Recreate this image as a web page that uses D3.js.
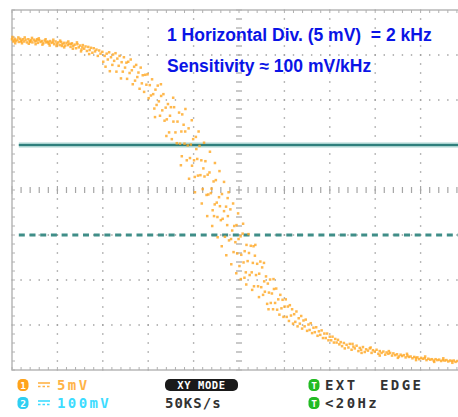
<!DOCTYPE html>
<html>
<head>
<meta charset="utf-8">
<script src="https://cdn.jsdelivr.net/npm/d3@7"></script>
<style>
  body { margin: 0; background: #fff; }
  svg { display: block; }
</style>
</head>
<body>
<div id="app"></div>
<script>
// XY trace, in screen divisions (ch1 = x, 5 mV/div ; ch2 = y, 100 mV/div)
const plateau = [
  [-5.00,3.35],[-4.97,3.30],[-4.94,3.36],[-4.91,3.31],[-4.88,3.34],[-4.85,3.29],[-4.82,3.36],[-4.79,3.32],
  [-4.76,3.35],[-4.73,3.30],[-4.70,3.34],[-4.67,3.28],[-4.64,3.35],[-4.61,3.31],[-4.58,3.33],[-4.55,3.28],
  [-4.52,3.34],[-4.49,3.30],[-4.46,3.32],[-4.43,3.27],[-4.40,3.33],[-4.37,3.29],[-4.34,3.31],[-4.31,3.26],
  [-4.28,3.32],[-4.25,3.28],[-4.22,3.30],[-4.19,3.25],[-4.16,3.31],[-4.13,3.27],[-4.10,3.29],[-4.07,3.24],
  [-4.04,3.30],[-4.01,3.25],[-3.98,3.28],[-3.95,3.22],[-3.92,3.29],[-3.89,3.24],[-3.86,3.27],[-3.83,3.21],
  [-3.80,3.27],[-3.77,3.22],[-3.74,3.25],[-3.71,3.18],[-3.68,3.26],[-3.65,3.20],[-3.62,3.23],[-3.59,3.15],
  [-3.56,3.24],[-3.53,3.17],[-3.50,3.21],[-3.47,3.12],[-3.44,3.22],[-3.41,3.14],[-3.38,3.19],[-3.35,3.09],
  [-3.32,3.18],[-3.29,3.11],[-3.26,3.16],[-3.23,3.05],[-3.20,3.15],[-3.17,3.08],[-3.14,3.12],[-3.11,2.98],
  [-3.08,3.10],[-3.05,3.03],[-4.95,3.32],[-4.80,3.30],[-4.60,3.29],[-4.45,3.35],[-4.20,3.28],[-3.90,3.20],
  [-3.70,3.24],[-3.45,3.17],[-3.30,3.02],
  [-4.99,3.40],[-4.93,3.26],[-4.86,3.39],[-4.78,3.26],[-4.72,3.39],[-4.63,3.25],[-4.56,3.38],[-4.48,3.24],
  [-4.41,3.37],[-4.33,3.23],[-4.26,3.35],[-4.17,3.21],[-4.09,3.34],[-4.02,3.20],[-3.94,3.32],[-3.85,3.17],
  [-3.76,3.30],[-3.66,3.14],[-3.57,3.28],[-3.48,3.08]
];

const knee = [
  [-3.01,3.07],[-2.99,2.85],[-2.96,2.98],[-2.94,2.74],[-2.915,3.03],[-2.89,2.90],[-2.86,3.06],[-2.845,2.64],
  [-2.82,2.95],[-2.79,2.78],[-2.775,3.01],[-2.75,2.87],[-2.72,3.04],[-2.70,2.63],[-2.68,2.92],[-2.65,2.76],
  [-2.63,2.98],[-2.60,2.48],[-2.585,2.84],[-2.56,2.63],[-2.535,2.95],[-2.51,2.72],[-2.48,2.83],[-2.465,2.47],
  [-2.44,2.85],[-2.41,2.60],[-2.385,2.90],[-2.36,2.66],[-2.34,2.35],[-2.31,2.74],[-2.29,2.43],[-2.265,2.78],
  [-2.24,2.51],[-2.215,2.61],[-2.19,2.25],[-2.165,2.72],[-2.14,2.37],[-2.12,2.55],[-2.09,2.18],[-2.065,2.56],
  [-2.04,2.34],[-2.015,2.57],[-1.99,2.04],[-1.965,2.33],[-1.94,2.10],[-1.915,2.46],[-1.89,2.13],[-1.865,1.81],
  [-1.84,2.23],[-1.815,1.89],[-1.79,2.32],[-1.765,1.97],[-1.74,1.65],[-1.715,2.09],[-1.69,1.77],[-1.665,2.13],
  [-1.64,1.54],[-1.615,1.83],[-1.59,1.57],[-1.565,1.91],[-1.54,1.28],[-1.52,1.65]
];

const slope = [
  [-1.50,1.84],[-1.48,1.13],[-1.445,1.52],[-1.43,1.84],[-1.40,1.28],[-1.37,1.04],[-1.355,1.52],[-1.32,1.72],
  [-1.30,1.03],[-1.27,1.30],[-1.26,0.75],[-1.22,1.45],[-1.20,1.03],[-1.185,1.30],[-1.15,0.66],[-1.13,0.99],
  [-1.11,1.37],[-1.08,0.71],[-1.06,1.01],[-1.035,0.54],[-1.01,1.13],[-0.99,0.66],[-0.975,0.29],[-0.94,0.91],
  [-0.92,0.69],[-0.905,0.32],[-0.87,0.98],[-0.85,0.33],[-0.83,0.66],[-0.80,0.02],[-0.785,0.48],[-0.76,0.30],
  [-0.74,0.64],[-0.715,-0.11],[-0.69,0.34],[-0.675,-0.10],[-0.65,0.39],[-0.62,-0.07],[-0.605,0.03],[-0.58,-0.45],
  [-0.56,0.19],[-0.535,-0.32],[-0.51,0.22],[-0.49,-0.28],[-0.475,-0.60],[-0.44,-0.16],[-0.42,-0.36],[-0.40,-0.67],
  [-0.375,-0.09],[-0.36,-0.64],[-0.33,-0.47],[-0.31,-1.04],[-0.285,-0.37],[-0.26,-0.78],[-0.245,-0.58],[-0.22,-1.12],
  [-0.19,-0.43],[-0.175,-1.09],[-0.15,-0.90],[-0.12,-1.38],[-0.105,-0.80],[-0.08,-1.16],[-0.055,-0.78],[-0.04,-1.41],
  [-0.01,-1.09],[0.01,-1.69],[0.035,-1.03],[0.05,-1.44],[0.08,-0.97],[0.10,-1.61],[0.125,-1.36],[0.15,-1.83],
  [0.165,-1.22],[0.19,-1.58],[0.22,-1.40],[0.235,-1.89],[0.26,-1.24],[0.28,-1.83],[0.305,-1.62],[0.33,-2.14],
  [0.35,-1.46],[0.375,-1.89],[0.40,-1.64],[0.42,-2.14],[0.445,-1.86],[0.47,-1.59],[0.49,-2.16],
  [-0.95,1.18],[-0.55,-0.58],[-0.25,-0.18],[0.12,-1.95],[-1.25,1.68],[0.32,-1.25]
];

// wider outliers of the steep part
const spread = [
  [-1.28,0.55],[-1.18,1.80],[-1.10,0.25],[-1.04,1.55],[-0.97,-0.05],[-0.89,1.30],[-0.82,-0.30],[-0.77,1.05],
  [-0.70,-0.58],[-0.64,0.85],[-0.59,-0.80],[-0.53,0.60],[-0.47,-1.05],[-0.43,0.42],[-0.38,-1.25],[-0.33,0.18],
  [-0.28,-1.45],[-0.23,-0.05],[-0.17,-1.65],[-0.13,-0.30],[-0.06,-1.85],[-0.02,-0.52],[0.04,-1.98],[0.09,-0.75],
  [0.16,-2.10],[0.21,-0.98],[0.29,-2.22],[0.36,-1.22],[0.44,-2.38],[0.55,-1.62],[0.65,-2.65],[0.76,-1.98],
  [-1.45,2.05],[-1.60,1.20],[-1.72,2.35],[-1.85,1.62]
];

const bend = [
  [0.51,-1.72],[0.53,-2.33],[0.555,-2.03],[0.57,-2.26],[0.595,-1.92],[0.62,-2.53],[0.635,-2.08],[0.66,-2.28],
  [0.685,-1.99],[0.70,-2.51],[0.725,-2.30],[0.75,-2.65],[0.77,-2.20],[0.795,-2.51],[0.82,-2.19],[0.84,-2.66],
  [0.865,-2.43],[0.89,-2.77],[0.91,-2.33],[0.935,-2.63],[0.96,-2.44],[0.98,-2.82],[1.005,-2.59],[1.03,-2.43],
  [1.05,-2.82],[1.075,-2.59],[1.10,-2.91],[1.12,-2.56],[1.145,-2.79],[1.17,-2.65],[1.19,-2.97],[1.215,-2.76],
  [1.24,-2.93],[1.265,-2.70],[1.29,-3.03],[1.315,-2.85],[1.34,-2.97],[1.37,-2.80],[1.39,-3.08],[1.42,-2.90],
  [1.445,-3.03],[1.47,-2.88],[1.50,-3.13],[1.53,-2.99],[1.555,-3.11],[1.58,-2.96],[1.61,-3.18],[1.64,-3.06],
  [1.67,-3.16],[1.70,-3.05],[1.73,-3.24],[1.76,-3.14],[1.79,-3.22],[1.82,-3.12],[1.85,-3.29],[1.88,-3.19],
  [1.91,-3.29],[1.94,-3.19],[1.97,-3.34],[2.00,-3.26],[2.03,-3.34],[2.06,-3.26],[2.09,-3.39],[2.12,-3.31],
  [2.15,-3.39],[2.18,-3.33],[2.21,-3.43],[2.24,-3.38]
];

const tail = [
  [2.27,-3.47],[2.31,-3.40],[2.33,-3.52],[2.37,-3.44],[2.41,-3.50],[2.44,-3.42],[2.48,-3.55],[2.52,-3.48],
  [2.55,-3.52],[2.59,-3.46],[2.63,-3.58],[2.66,-3.51],[2.69,-3.55],[2.73,-3.49],[2.77,-3.60],[2.80,-3.54],
  [2.84,-3.57],[2.88,-3.52],[2.92,-3.62],[2.95,-3.56],[2.99,-3.59],[3.03,-3.55],[3.07,-3.64],[3.10,-3.58],
  [3.14,-3.62],[3.18,-3.59],[3.22,-3.66],[3.25,-3.61],[3.29,-3.64],[3.33,-3.62],[3.37,-3.68],[3.40,-3.63],
  [3.44,-3.67],[3.48,-3.65],[3.52,-3.70],[3.56,-3.66],[3.59,-3.69],[3.63,-3.67],[3.67,-3.72],[3.71,-3.68],
  [3.74,-3.71],[3.78,-3.70],[3.82,-3.74],[3.86,-3.71],[3.90,-3.73],[3.93,-3.72],[3.97,-3.76],[4.01,-3.73],
  [4.05,-3.75],[4.09,-3.74],[4.13,-3.78],[4.17,-3.75],[4.21,-3.77],[4.25,-3.76],[4.29,-3.79],[4.33,-3.76],
  [4.37,-3.78],[4.41,-3.77],[4.45,-3.80],[4.49,-3.78],[4.53,-3.79],[4.57,-3.78],[4.61,-3.81],[4.65,-3.79],
  [4.69,-3.80],[4.73,-3.79],[4.77,-3.82],[4.81,-3.80],[4.85,-3.81],
  [2.50,-3.42],[2.90,-3.50],[3.30,-3.58],[3.70,-3.64],[4.10,-3.70],[4.50,-3.74],[2.70,-3.62],[3.10,-3.68],
  [3.50,-3.73],[3.90,-3.78],[4.30,-3.82],[4.70,-3.84]
];

// cursors (divisions)
const cursorSolid = 1;
const cursorDashed = -1;

const xDivs = [-5,-4,-3,-2,-1,0,1,2,3,4,5];
const yDivs = [-4,-3,-2,-1,0,1,2,3,4];

const noteLines = ["1 Horizontal Div. (5 mV)  = 2 kHz", "Sensitivity \u2248 100 mV/kHz"];

const width = 458;
const height = 417;

const x = d3.scaleLinear().domain([-5, 5]).range([12, 466]);
const y = d3.scaleLinear().domain([-4, 4]).range([370, 10]);

const svg = d3.select('#app')
  .append('svg')
  .attr('width', width)
  .attr('height', height);

const grid = svg.append('g');
const minor = d3.range(-25, 26).map(d => d / 5);
const minorY = d3.range(-20, 21).map(d => d / 5);

// dotted graticule
xDivs.filter(d => d > -5 && d < 5 && d !== 0).forEach(v => {
  grid.selectAll(null).data(minorY).join('rect')
    .attr('x', x(v) - 0.7).attr('y', d => y(d) - 0.7)
    .attr('width', 1.4).attr('height', 1.4).attr('fill', '#9a9a9a');
});
yDivs.filter(d => d > -4 && d < 4 && d !== 0).forEach(v => {
  grid.selectAll(null).data(minor).join('rect')
    .attr('x', d => x(d) - 0.7).attr('y', y(v) - 0.7)
    .attr('width', 1.4).attr('height', 1.4).attr('fill', '#9a9a9a');
});

// centre axes with minor ticks
grid.selectAll(null).data(minor).join('line')
  .attr('x1', d => x(d)).attr('x2', d => x(d))
  .attr('y1', d => y(0) - (Number.isInteger(d) ? 4 : 3)).attr('y2', d => y(0) + (Number.isInteger(d) ? 4 : 3))
  .attr('stroke', '#a5a5a5').attr('stroke-width', 1.2);
grid.selectAll(null).data(minorY).join('line')
  .attr('y1', d => y(d)).attr('y2', d => y(d))
  .attr('x1', x(0) - 3).attr('x2', x(0) + 3)
  .attr('stroke', '#a5a5a5').attr('stroke-width', 1.2);

// border
grid.append('path')
  .attr('d', `M${x(5)},${y(4)}H${x(-5)}V${y(-4)}H${x(5)}`)
  .attr('fill', 'none').attr('stroke', '#b8b8b8').attr('stroke-width', 1.5);
grid.selectAll(null).data(minorY).join('line')
  .attr('y1', d => y(d)).attr('y2', d => y(d))
  .attr('x1', x(-5)).attr('x2', x(-5) + 3)
  .attr('stroke', '#b0b0b0').attr('stroke-width', 1);
grid.selectAll(null).data(minor).join('line')
  .attr('x1', d => x(d)).attr('x2', d => x(d))
  .attr('y1', y(4)).attr('y2', y(4) + 3)
  .attr('stroke', '#b0b0b0').attr('stroke-width', 1);
grid.selectAll(null).data(minor).join('line')
  .attr('x1', d => x(d)).attr('x2', d => x(d))
  .attr('y1', y(-4)).attr('y2', y(-4) - 3)
  .attr('stroke', '#b0b0b0').attr('stroke-width', 1);

// cursors
const cx0 = x(-4.85);
svg.append('line').attr('x1', cx0).attr('x2', width).attr('y1', y(cursorSolid)).attr('y2', y(cursorSolid))
  .attr('stroke', '#a9d3d0').attr('stroke-width', 5);
svg.append('line').attr('x1', cx0).attr('x2', width).attr('y1', y(cursorSolid)).attr('y2', y(cursorSolid))
  .attr('stroke', '#2f7f7c').attr('stroke-width', 2);
svg.append('line').attr('x1', cx0).attr('x2', width).attr('y1', y(cursorDashed)).attr('y2', y(cursorDashed))
  .attr('stroke', '#3f8e88').attr('stroke-width', 3.2).attr('stroke-dasharray', '6,4.7');

// trace
const trace = [...plateau, ...knee, ...slope, ...spread, ...bend, ...tail];
svg.append('g').selectAll('rect').data(trace).join('rect')
  .attr('x', d => x(d[0]) - 1.25)
  .attr('y', d => y(d[1]) - 1.25)
  .attr('width', 2.5).attr('height', 2.5)
  .attr('fill', '#ffa826').attr('opacity', 0.82);

// annotation
svg.selectAll('text.note').data(noteLines).join('text')
  .attr('class', 'note')
  .attr('x', 167).attr('y', (d, i) => 41 + i * 31)
  .attr('font-family', 'Liberation Sans, Arial, sans-serif')
  .attr('font-weight', 'bold').attr('font-size', 17.5)
  .attr('fill', '#0a14e6')
  .style('white-space', 'pre')
  .text(d => d);

// status bar
const bar = svg.append('g')
  .attr('font-family', 'DejaVu Sans Mono, monospace')
  .attr('font-size', 14)
  .attr('font-weight', 'bold')
  .attr('letter-spacing', 2.4);

function badge(cx, cy, color, label) {
  bar.append('rect').attr('x', cx - 5.5).attr('y', cy - 6).attr('width', 11).attr('height', 12)
    .attr('rx', 4.5).attr('fill', color);
  bar.append('text').attr('x', cx).attr('y', cy + 3.5).attr('text-anchor', 'middle')
    .attr('letter-spacing', 0).attr('font-size', 9.5).attr('fill', '#fff').text(label);
}

function dcMark(x0, cy, color) {
  bar.append('line').attr('x1', x0).attr('x2', x0 + 12).attr('y1', cy - 2).attr('y2', cy - 2)
    .attr('stroke', color).attr('stroke-width', 1.6);
  bar.append('line').attr('x1', x0).attr('x2', x0 + 12).attr('y1', cy + 1.5).attr('y2', cy + 1.5)
    .attr('stroke', color).attr('stroke-width', 1.6).attr('stroke-dasharray', '2.5,2');
}

badge(23, 385, '#ffa31a', '1');
dcMark(38, 385, '#ffb347');
bar.append('text').attr('x', 57).attr('y', 390).attr('fill', '#ffb347').text('5mV');
badge(23, 403, '#2fcff2', '2');
dcMark(38, 403, '#3ddcff');
bar.append('text').attr('x', 57).attr('y', 408).attr('fill', '#3ddcff').text('100mV');

bar.append('rect').attr('x', 165).attr('y', 379).attr('width', 73).attr('height', 12).attr('rx', 5).attr('fill', '#1a1a1a');
bar.append('text').attr('x', 201.5).attr('y', 389).attr('text-anchor', 'middle').attr('font-size', 10.5)
  .attr('letter-spacing', 0.6).attr('fill', '#fff').text('XY MODE');
bar.append('text').attr('x', 165).attr('y', 408).attr('fill', '#333').attr('letter-spacing', 1).text('50KS/s');

badge(314, 385, '#22bb22', 'T');
bar.append('text').attr('x', 325).attr('y', 390).attr('fill', '#333').text('EXT');
bar.append('text').attr('x', 380).attr('y', 390).attr('fill', '#333').text('EDGE');
badge(314, 403, '#22bb22', 'T');
bar.append('text').attr('x', 325).attr('y', 408).attr('fill', '#333').text('<20Hz');
</script>
</body>
</html>
